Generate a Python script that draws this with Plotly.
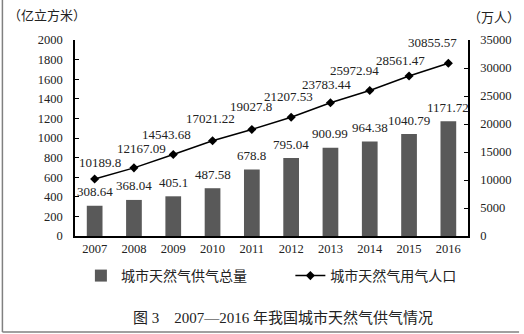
import plotly.graph_objects as go

# 2007-2016 城市天然气供气数据
years = ["2007", "2008", "2009", "2010", "2011", "2012", "2013", "2014", "2015", "2016"]
supply_total = [308.64, 368.04, 405.1, 487.58, 678.8, 795.04, 900.99, 964.38, 1040.79, 1171.72]  # 亿立方米
gas_population = [10189.8, 12167.09, 14543.68, 17021.22, 19027.8, 21207.53,
                  23783.44, 25972.94, 28561.47, 30855.57]  # 万人

left_ticks = list(range(0, 2001, 200))
right_ticks = list(range(0, 35001, 5000))

# label offsets (px) for the population labels
pop_dx = [5, 8, -7, -2, -1, -3, -4, -15, -9, -16]
pop_dy = [16, 19, 20, 22, 23, 21, 18, 20, 16, 21]

FONT = "Liberation Serif, Noto Sans CJK SC, serif"
TXT = "#222"

fig = go.Figure()
fig.add_trace(go.Bar(
    x=years, y=supply_total, name="城市天然气供气总量",
    marker=dict(color="#595959", line=dict(width=0)),
    yaxis="y", legend="legend",
))
fig.add_trace(go.Scatter(
    x=years, y=gas_population, name="城市天然气用气人口",
    mode="lines+markers",
    line=dict(color="black", width=1.5),
    marker=dict(symbol="diamond", size=7, color="black"),
    yaxis="y2", legend="legend2",
))

annotations = []
# category axis: annotations are placed by category index
for i, v in enumerate(supply_total):
    annotations.append(dict(
        x=i, y=v, xref="x", yref="y", text=str(v), showarrow=False,
        yanchor="middle", yshift=14, font=dict(family=FONT, size=13, color=TXT),
    ))
for i, (v, dx, dy) in enumerate(zip(gas_population, pop_dx, pop_dy)):
    annotations.append(dict(
        x=i, y=v, xref="x", yref="y2", text=str(v), showarrow=False,
        yanchor="middle", xshift=dx, yshift=dy, font=dict(family=FONT, size=13, color=TXT),
    ))

# unit labels and caption
annotations += [
    dict(x=-0.175, y=1.127, xref="paper", yref="paper", text="（亿立方米）", showarrow=False,
         xanchor="left", yanchor="middle", font=dict(family=FONT, size=13, color=TXT)),
    dict(x=0.995, y=1.117, xref="paper", yref="paper", text="（万人）", showarrow=False,
         xanchor="left", yanchor="middle", font=dict(family=FONT, size=13, color=TXT)),
    dict(x=0.53, y=-0.418, xref="paper", yref="paper",
         text="图 3　2007—2016 年我国城市天然气供气情况", showarrow=False,
         xanchor="center", yanchor="middle", font=dict(family=FONT, size=15, color=TXT)),
]

frame = dict(color="#808080", width=1.5)
shapes = [
    dict(type="line", xref="paper", yref="paper", x0=-0.1847, x1=-0.1847, y0=-0.49, y1=1.21, line=frame),
    dict(type="line", xref="paper", yref="paper", x0=-0.1847, x1=1.13, y0=-0.49, y1=-0.49, line=frame),
]

legend_style = dict(orientation="h", xanchor="left", y=-0.204, yanchor="middle",
                    font=dict(family=FONT, size=14, color=TXT), bgcolor="rgba(0,0,0,0)")

fig.update_layout(
    width=524, height=334,
    margin=dict(l=75, r=51, t=40, b=98),
    paper_bgcolor="white", plot_bgcolor="white",
    font=dict(family=FONT, size=12.5, color=TXT),
    bargap=0.6,
    showlegend=True,
    legend=dict(x=0.015, **legend_style),
    legend2=dict(x=0.548, **legend_style),
    xaxis=dict(type="category", range=[-0.5, 9.5], showline=True, linecolor="black",
               linewidth=1.5, ticks="", showgrid=False, tickfont=dict(size=12.5)),
    yaxis=dict(range=[0, 2000], tickvals=left_ticks, showline=True, linecolor="black",
               linewidth=1.5, ticks="inside", ticklen=4, tickcolor="black",
               showgrid=False, zeroline=False, ticklabelstandoff=8, tickfont=dict(size=12.5)),
    yaxis2=dict(range=[0, 35000], tickvals=right_ticks, ticktext=[str(t) for t in right_ticks],
                overlaying="y", side="right",
                showline=True, linecolor="black", linewidth=1.5, ticks="inside", ticklen=4,
                tickcolor="black", showgrid=False, zeroline=False, ticklabelstandoff=8,
                tickfont=dict(size=12.5)),
    annotations=annotations,
    shapes=shapes,
)

fig.write_html("out.html")
